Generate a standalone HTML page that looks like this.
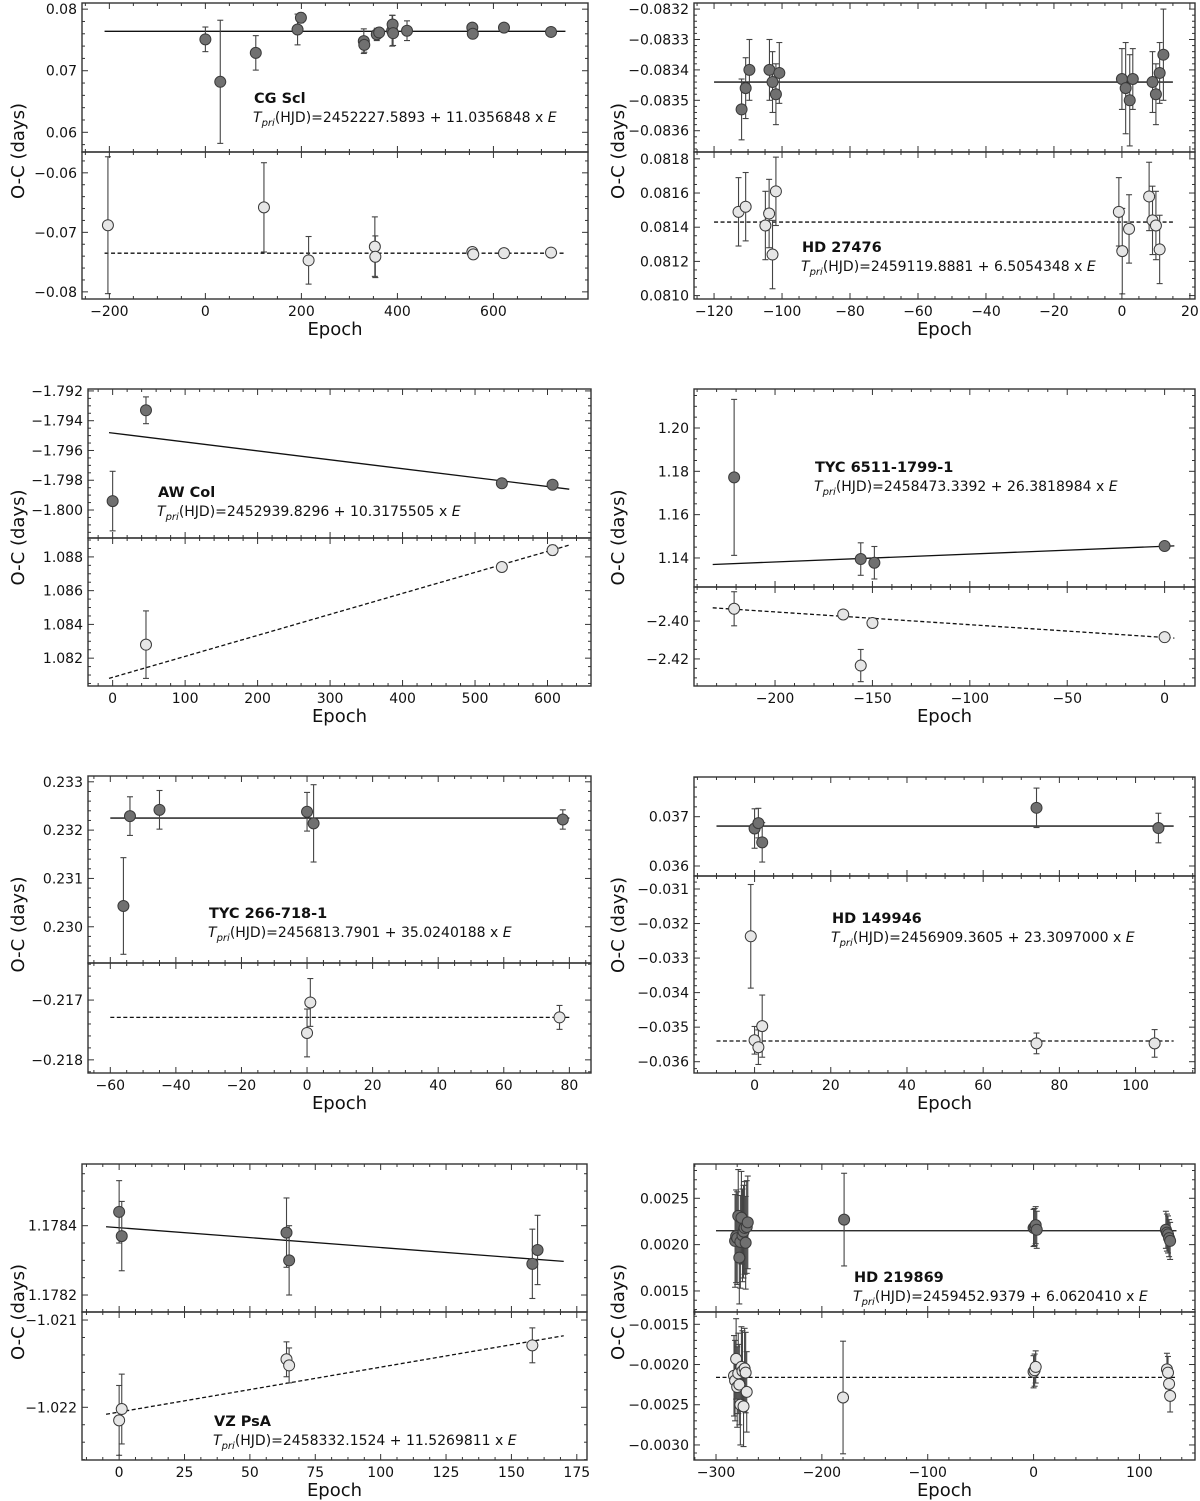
<!DOCTYPE html>
<html><head><meta charset="utf-8"><style>
html,body{margin:0;padding:0;background:#fff;}
svg{display:block;font-family:"DejaVu Sans","Liberation Sans",sans-serif;}
</style></head><body>
<svg id="fig" width="1200" height="1501" viewBox="0 0 1200 1501" xmlns="http://www.w3.org/2000/svg"></svg>
<script>
// ---------- DATA ----------
// CG Scl
const cgPriE=[0,31,105,192,199,330,331,357,362,389,390,391,420,556,557,622,720];
const cgPriOC=[0.0751,0.0682,0.0729,0.0767,0.0786,0.0748,0.0742,0.0759,0.0762,0.0765,0.0775,0.0761,0.0765,0.0770,0.0760,0.0770,0.0763];
const cgPriErr=[0.002,0.01,0.0028,0.0025,0.0008,0.002,0.0012,0.001,0.0008,0.0025,0.0015,0.002,0.0016,0.0005,0.0005,0.0005,0.0004];
const cgPriFitX=[-210,750]; const cgPriFitY=[0.0764,0.0764];
const cgSecE=[-203,122,215,353,354,556,558,622,720];
const cgSecOC=[-0.0688,-0.0658,-0.0747,-0.0724,-0.0741,-0.0733,-0.0737,-0.0735,-0.0734];
const cgSecErr=[0.0115,0.0075,0.004,0.005,0.0035,0.0003,0.0003,0.0003,0.0003];
const cgSecFitX=[-210,750]; const cgSecFitY=[-0.0735,-0.0735];
// HD 27476
const hd27PriE=[-111.9,-110.7,-109.6,-103.7,-102.8,-101.8,-100.8,0,1.1,2.3,3.2,9,10,11.1,12.2];
const hd27PriOC=[-0.08353,-0.08346,-0.08340,-0.08340,-0.08344,-0.08348,-0.08341,-0.08343,-0.08346,-0.08350,-0.08343,-0.08344,-0.08348,-0.08341,-0.08335];
const hd27PriErr=[0.0001,0.0001,0.0001,0.0001,0.0001,0.0001,0.0001,0.0001,0.00015,0.00015,0.0001,0.0001,0.0001,0.0001,0.00015];
const hd27PriFitX=[-120,15]; const hd27PriFitY=[-0.08344,-0.08344];
const hd27SecE=[-112.8,-110.7,-104.9,-103.8,-102.8,-101.8,-0.9,0.1,2.1,8,9,10,11.1];
const hd27SecOC=[0.08149,0.08152,0.08141,0.08148,0.08124,0.08161,0.08149,0.08126,0.08139,0.08158,0.08144,0.08141,0.08127];
const hd27SecErr=[0.0002,0.0002,0.0002,0.0002,0.0002,0.0002,0.0002,0.00025,0.0002,0.0002,0.0002,0.0002,0.0002];
const hd27SecFitX=[-120,15]; const hd27SecFitY=[0.08143,0.08143];
// AW Col
const awPriE=[0,46,537,607];
const awPriOC=[-1.7994,-1.7933,-1.7982,-1.7983];
const awPriErr=[0.002,0.0009,0.0002,0.0002];
const awPriFitX=[-5,630]; const awPriFitY=[-1.7948,-1.7986];
const awSecE=[46,537,607];
const awSecOC=[1.0828,1.0874,1.0884];
const awSecErr=[0.002,0.0002,0.0003];
const awSecFitX=[-5,630]; const awSecFitY=[1.0808,1.0887];
// TYC 6511-1799-1
const tyc65PriE=[-221,-156,-149,0];
const tyc65PriOC=[1.1772,1.1395,1.1378,1.1455];
const tyc65PriErr=[0.036,0.0075,0.0075,0.0005];
const tyc65PriFitX=[-232,5]; const tyc65PriFitY=[1.137,1.1456];
const tyc65SecE=[-221,-165,-156,-150,0];
const tyc65SecOC=[-2.3935,-2.3965,-2.4235,-2.401,-2.4085];
const tyc65SecErr=[0.009,0.001,0.0085,0.001,0.001];
const tyc65SecFitX=[-232,5]; const tyc65SecFitY=[-2.393,-2.409];
// TYC 266-718-1
const tyc26PriE=[-56,-54,-45,0,2,78];
const tyc26PriOC=[0.23043,0.23229,0.23242,0.23238,0.23214,0.23222];
const tyc26PriErr=[0.001,0.0004,0.0004,0.0004,0.0008,0.0002];
const tyc26PriFitX=[-60,80]; const tyc26PriFitY=[0.23225,0.23225];
const tyc26SecE=[0,1,77];
const tyc26SecOC=[-0.21755,-0.21704,-0.21729];
const tyc26SecErr=[0.0004,0.0004,0.0002];
const tyc26SecFitX=[-60,80]; const tyc26SecFitY=[-0.21729,-0.21729];
// HD 149946
const hd14PriE=[0,1,2,74,106];
const hd14PriOC=[0.03676,0.03687,0.03648,0.03718,0.03677];
const hd14PriErr=[0.0004,0.0003,0.0004,0.0004,0.0003];
const hd14PriFitX=[-10,110]; const hd14PriFitY=[0.03681,0.03681];
const hd14SecE=[-1,0,1,2,74,105];
const hd14SecOC=[-0.03237,-0.03538,-0.03558,-0.03497,-0.03547,-0.03547];
const hd14SecErr=[0.0015,0.0004,0.0005,0.0009,0.0003,0.0004];
const hd14SecFitX=[-10,110]; const hd14SecFitY=[-0.0354,-0.0354];
// VZ PsA
const vzPriE=[0,1,64,65,158,160];
const vzPriOC=[1.17844,1.17837,1.17838,1.17830,1.17829,1.17833];
const vzPriErr=[0.00009,0.0001,0.0001,0.0001,0.0001,0.0001];
const vzPriFitX=[-5,170]; const vzPriFitY=[1.178397,1.178297];
const vzSecE=[0,1,64,65,158];
const vzSecOC=[-1.02215,-1.02202,-1.02145,-1.02152,-1.02129];
const vzSecErr=[0.0004,0.0004,0.0002,0.0002,0.0002];
const vzSecFitX=[-5,170]; const vzSecFitY=[-1.02208,-1.02118];
// HD 219869
const hd21PriE=[-282,-281,-280,-279,-278,-277,-276,-275,-274,-273,-272,-271,-270,-179,0,1,2,3,125,126,127,128,129];
const hd21PriOC=[0.00204,0.00209,0.00207,0.00231,0.00186,0.00203,0.00229,0.00210,0.00214,0.00218,0.00202,0.00219,0.00224,0.00227,0.00218,0.00219,0.00221,0.00216,0.00216,0.00213,0.00211,0.00207,0.00204];
const hd21PriErr=[0.0005,0.0005,0.0005,0.0005,0.0005,0.0005,0.0005,0.0005,0.0005,0.0005,0.0005,0.0005,0.0005,0.0005,0.0002,0.0002,0.0002,0.0002,0.0002,0.0002,0.0002,0.0002,0.0002];
const hd21PriFitX=[-300,135]; const hd21PriFitY=[0.00215,0.00215];
const hd21SecE=[-283,-282,-281,-280,-279,-278,-277,-276,-275,-274,-273,-272,-271,-180,0,1,2,126,127,128,129];
const hd21SecOC=[-0.00214,-0.0022,-0.00193,-0.00228,-0.00211,-0.00225,-0.0025,-0.00203,-0.00208,-0.00252,-0.00205,-0.0021,-0.00234,-0.00241,-0.00209,-0.00207,-0.00203,-0.00206,-0.0021,-0.00224,-0.00239];
const hd21SecErr=[0.0005,0.0005,0.0005,0.0005,0.0005,0.0005,0.0005,0.0005,0.0005,0.0005,0.0005,0.0005,0.0005,0.0007,0.0002,0.0002,0.0002,0.0002,0.0002,0.0002,0.0002];
const hd21SecFitX=[-300,135]; const hd21SecFitY=[-0.00216,-0.00216];

// ---------- LAYOUT ----------
const NS='http://www.w3.org/2000/svg';
const fig=document.getElementById('fig');
function mk(tag,attrs,parent){const e=document.createElementNS(NS,tag);for(const k in attrs)e.setAttribute(k,attrs[k]);(parent||fig).appendChild(e);return e;}
function fmt(v,d){let s=Math.abs(v)<1e-12?(0).toFixed(d):v.toFixed(d);return s.replace('-','\u2212');}
function nMinor(step){const m=step/Math.pow(10,Math.floor(Math.log10(step)+1e-9));const r=Math.round(m*100)/100;return (r===1||r===5||r===10)?5:4;}

const panels=[
 {key:'cg-scl',name:'CG Scl',formula:'2452227.5893 + 11.0356848 x ',L:82,R:588,T:3,D:152,B:299,xlim:[-257,797],xStep:200,xDec:0,tx:254,ty:103,
  top:{ylim:[0.0568,0.0810],step:0.01,dec:2,E:cgPriE,OC:cgPriOC,ER:cgPriErr,FX:cgPriFitX,FY:cgPriFitY},
  bot:{ylim:[-0.0812,-0.0565],step:0.01,dec:2,E:cgSecE,OC:cgSecOC,ER:cgSecErr,FX:cgSecFitX,FY:cgSecFitY},ylx:19},
 {key:'hd-27476',name:'HD 27476',formula:'2459119.8881 + 6.5054348 x ',L:694,R:1195,T:3,D:152,B:299,xlim:[-125.9,21.5],xStep:20,xDec:0,tx:802,ty:252,
  top:{ylim:[-0.083670,-0.083180],step:0.0001,dec:4,E:hd27PriE,OC:hd27PriOC,ER:hd27PriErr,FX:hd27PriFitX,FY:hd27PriFitY},
  bot:{ylim:[0.08098,0.08184],step:0.0002,dec:4,E:hd27SecE,OC:hd27SecOC,ER:hd27SecErr,FX:hd27SecFitX,FY:hd27SecFitY},ylx:619},
 {key:'aw-col',name:'AW Col',formula:'2452939.8296 + 10.3175505 x ',L:88,R:591,T:389,D:538,B:686,xlim:[-34,660],xStep:100,xDec:0,tx:158,ty:497,
  top:{ylim:[-1.80188,-1.79187],step:0.002,dec:3,E:awPriE,OC:awPriOC,ER:awPriErr,FX:awPriFitX,FY:awPriFitY},
  bot:{ylim:[1.08035,1.08912],step:0.002,dec:3,E:awSecE,OC:awSecOC,ER:awSecErr,FX:awSecFitX,FY:awSecFitY},ylx:19},
 {key:'tyc-6511',name:'TYC 6511-1799-1',formula:'2458473.3392 + 26.3818984 x ',L:694,R:1195,T:389,D:587,B:686,xlim:[-241.6,15.6],xStep:50,xDec:0,tx:815,ty:472,
  top:{ylim:[1.1266,1.218],step:0.02,dec:2,E:tyc65PriE,OC:tyc65PriOC,ER:tyc65PriErr,FX:tyc65PriFitX,FY:tyc65PriFitY},
  bot:{ylim:[-2.4343,-2.382],step:0.02,dec:2,E:tyc65SecE,OC:tyc65SecOC,ER:tyc65SecErr,FX:tyc65SecFitX,FY:tyc65SecFitY},ylx:619},
 {key:'tyc-266',name:'TYC 266-718-1',formula:'2456813.7901 + 35.0240188 x ',L:88,R:591,T:776,D:963,B:1073,xlim:[-66.8,86.6],xStep:20,xDec:0,tx:209,ty:918,
  top:{ylim:[0.22925,0.23312],step:0.001,dec:3,E:tyc26PriE,OC:tyc26PriOC,ER:tyc26PriErr,FX:tyc26PriFitX,FY:tyc26PriFitY},
  bot:{ylim:[-0.21822,-0.21638],step:0.001,dec:3,E:tyc26SecE,OC:tyc26SecOC,ER:tyc26SecErr,FX:tyc26SecFitX,FY:tyc26SecFitY},ylx:19},
 {key:'hd-149946',name:'HD 149946',formula:'2456909.3605 + 23.3097000 x ',L:694,R:1195,T:777,D:876,B:1073,xlim:[-15.9,115.6],xStep:20,xDec:0,tx:832,ty:923,
  top:{ylim:[0.035797,0.037805],step:0.001,dec:3,E:hd14PriE,OC:hd14PriOC,ER:hd14PriErr,FX:hd14PriFitX,FY:hd14PriFitY},
  bot:{ylim:[-0.036327,-0.030624],step:0.001,dec:3,E:hd14SecE,OC:hd14SecOC,ER:hd14SecErr,FX:hd14SecFitX,FY:hd14SecFitY},ylx:619},
 {key:'vz-psa',name:'VZ PsA',formula:'2458332.1524 + 11.5269811 x ',L:82,R:587,T:1164,D:1312,B:1460,xlim:[-14.2,178.9],xStep:25,xDec:0,tx:214,ty:1426,
  top:{ylim:[1.178151,1.178578],step:0.0002,dec:4,E:vzPriE,OC:vzPriOC,ER:vzPriErr,FX:vzPriFitX,FY:vzPriFitY},
  bot:{ylim:[-1.022604,-1.020908],step:0.001,dec:3,E:vzSecE,OC:vzSecOC,ER:vzSecErr,FX:vzSecFitX,FY:vzSecFitY},ylx:19},
 {key:'hd-219869',name:'HD 219869',formula:'2459452.9379 + 6.0620410 x ',L:694,R:1195,T:1164,D:1312,B:1460,xlim:[-320.8,152.5],xStep:100,xDec:0,tx:854,ty:1282,
  top:{ylim:[0.001273,0.00287],step:0.0005,dec:4,E:hd21PriE,OC:hd21PriOC,ER:hd21PriErr,FX:hd21PriFitX,FY:hd21PriFitY},
  bot:{ylim:[-0.003187,-0.001347],step:0.0005,dec:4,E:hd21SecE,OC:hd21SecOC,ER:hd21SecErr,FX:hd21SecFitX,FY:hd21SecFitY},ylx:619}
];

function drawSub(p,s,y0,y1,isTop){
  const g=mk('g',{});
  
  
  const xs=v=>p.L+(v-p.xlim[0])/(p.xlim[1]-p.xlim[0])*(p.R-p.L);
  const ys=v=>y1-(v-s.ylim[0])/(s.ylim[1]-s.ylim[0])*(y1-y0);
  const cid='clip-'+p.key+(isTop?'t':'b');
  const cp=mk('clipPath',{id:cid},g);mk('rect',{x:p.L,y:y0,width:p.R-p.L,height:y1-y0},cp);
  const plot=mk('g',{'clip-path':'url(#'+cid+')'},g);
  const ystep=s.step, ny=nMinor(ystep);
  const yStart=Math.ceil(s.ylim[0]/(ystep/ny)-1e-6);
  for(let k=yStart;k*(ystep/ny)<=s.ylim[1]+1e-12;k++){
    const v=k*(ystep/ny);const yy=ys(v);const major=Math.abs(k%ny)===0;const len=major?6:3;
    mk('line',{x1:p.L,x2:p.L+len,y1:yy,y2:yy,stroke:'#333','stroke-width':1},g);
    mk('line',{x1:p.R,x2:p.R-len,y1:yy,y2:yy,stroke:'#333','stroke-width':1},g);
    if(major && yy>=y0-0.5 && yy<=y1+0.5){
      const t=mk('text',{x:p.L-5,y:yy+5,'text-anchor':'end','font-size':14,fill:'#111'},g);
      t.textContent=fmt(v,s.dec);
      
      
    }
  }
  const xstep=p.xStep,nx=nMinor(xstep);
  const xStart=Math.ceil(p.xlim[0]/(xstep/nx)-1e-6);
  for(let k=xStart;k*(xstep/nx)<=p.xlim[1]+1e-9;k++){
    const v=k*(xstep/nx);const xx=xs(v);const major=Math.abs(k%nx)===0;const len=major?6:3;
    mk('line',{x1:xx,x2:xx,y1:y0,y2:y0+len,stroke:'#333','stroke-width':1},g);
    mk('line',{x1:xx,x2:xx,y1:y1,y2:y1-len,stroke:'#333','stroke-width':1},g);
    if(!isTop && major){
      const t=mk('text',{x:xx,y:p.B+17,'text-anchor':'middle','font-size':14,fill:'#111'},g);
      t.textContent=fmt(v,p.xDec);
      
      
    }
  }
  const fl=mk('line',{x1:xs(s.FX[0]),y1:ys(s.FY[0]),x2:xs(s.FX[1]),y2:ys(s.FY[1]),stroke:'#111','stroke-width':1.3},plot);
  if(!isTop) fl.setAttribute('stroke-dasharray','4,2.5');
  
  
  for(let i=0;i<s.E.length;i++){
    const xx=xs(s.E[i]),yy=ys(s.OC[i]),ya=ys(s.OC[i]+s.ER[i]),yb=ys(s.OC[i]-s.ER[i]);
    const eb=mk('g',{stroke:'#444','stroke-width':1.1},plot);
    
    
    mk('line',{x1:xx,x2:xx,y1:ya,y2:yb},eb);
    mk('line',{x1:xx-3,x2:xx+3,y1:ya,y2:ya},eb);
    mk('line',{x1:xx-3,x2:xx+3,y1:yb,y2:yb},eb);
  }
  for(let i=0;i<s.E.length;i++){
    const c=mk('circle',{cx:xs(s.E[i]),cy:ys(s.OC[i]),r:5.5,fill:isTop?'#707070':'#e6e6e6',stroke:'#3a3a3a','stroke-width':1},plot);
    
    
  }
  const fr=mk('rect',{x:p.L,y:y0,width:p.R-p.L,height:y1-y0,fill:'none',stroke:'#333','stroke-width':1.4},g);
  
  
}

panels.forEach(p=>{
  drawSub(p,p.top,p.T,p.D,true);
  drawSub(p,p.bot,p.D,p.B,false);
  const xl=mk('text',{x:(p.L+p.R)/2,y:p.B+36,'text-anchor':'middle','font-size':18,fill:'#111'});
  xl.textContent='Epoch';
  
  
  const cy=(p.T+p.B)/2;
  const yl=mk('text',{x:p.ylx,y:cy,'text-anchor':'middle','font-size':18,fill:'#111',transform:'rotate(-90 '+p.ylx+' '+cy+')','dominant-baseline':'middle'});
  yl.textContent='O-C (days)';
  
  
  const nm=mk('text',{x:p.tx,y:p.ty,'font-size':14.5,'font-weight':'bold',fill:'#111'});
  nm.textContent=p.name;
  
  
  const fm=mk('text',{x:p.tx-1,y:p.ty+19,'font-size':14,fill:'#111'});
  
  
  const a=mk('tspan',{'font-style':'italic'},fm);a.textContent='T';
  const b=mk('tspan',{'font-style':'italic','font-size':10,dy:4},fm);b.textContent='pri';
  const c=mk('tspan',{dy:-4},fm);c.textContent='(HJD)='+p.formula;
  const d=mk('tspan',{'font-style':'italic'},fm);d.textContent='E';
});
</script>
</body></html>
